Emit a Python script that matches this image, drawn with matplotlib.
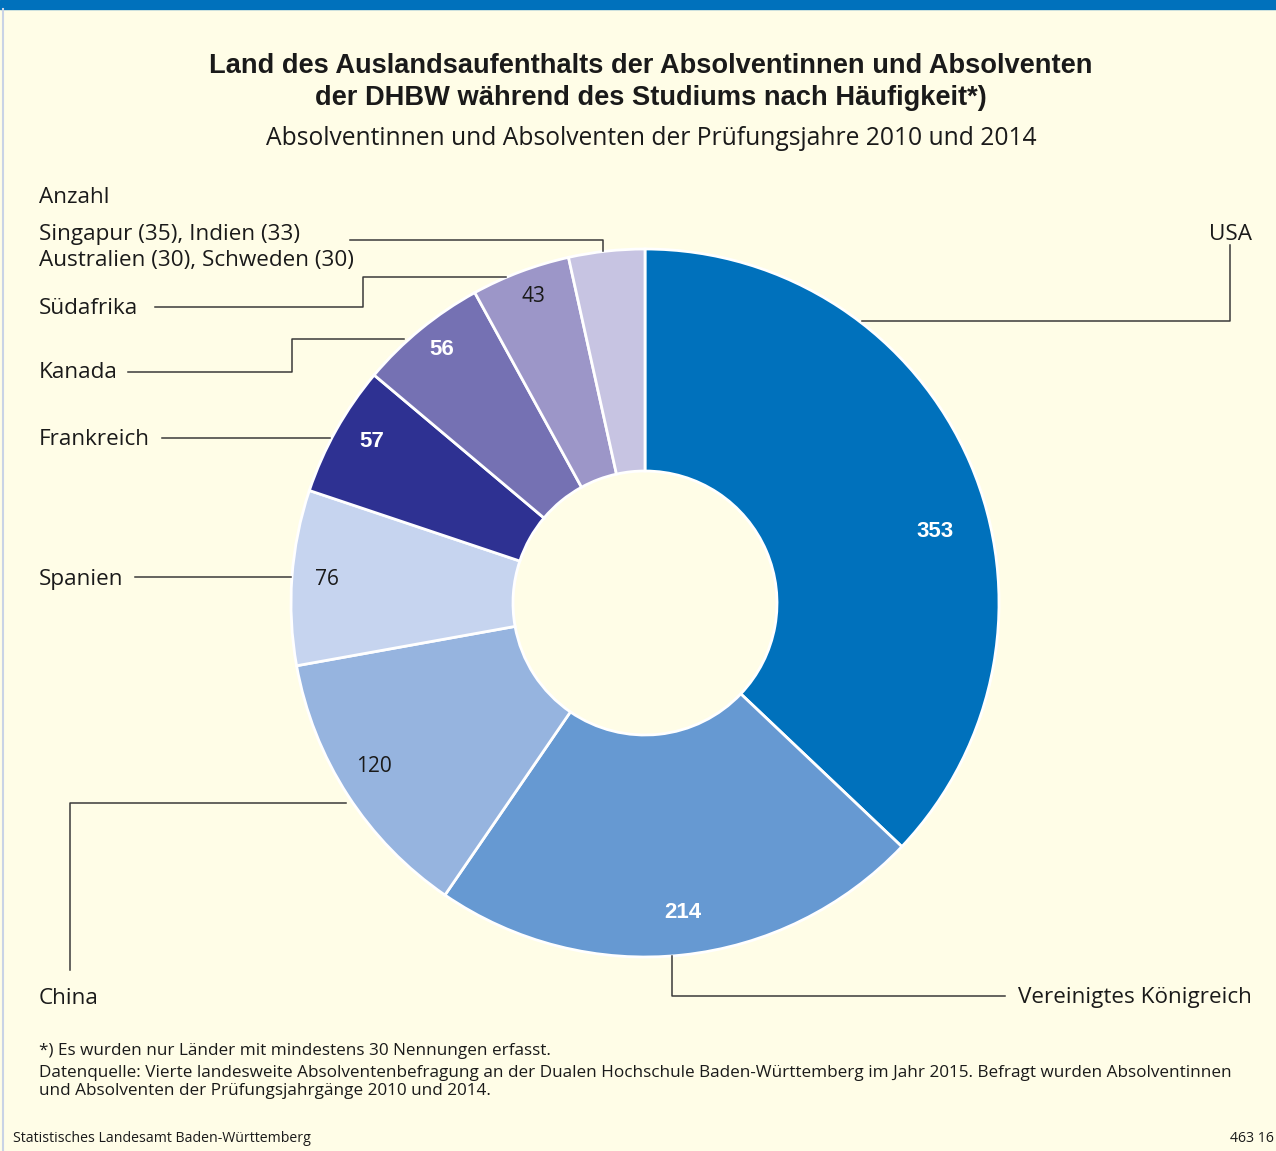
import matplotlib
matplotlib.use('Agg')
import matplotlib.pyplot as plt

plt.rcParams['font.family'] = ['Liberation Sans', 'DejaVu Sans']

# data (Anzahl Nennungen)
countries = ['USA', 'Vereinigtes Königreich', 'China', 'Spanien', 'Frankreich',
             'Kanada', 'Südafrika', 'Singapur/Indien/Australien/Schweden']
counts = [353, 214, 120, 76, 57, 56, 43, 33]
labels = ['353', '214', '120', '76', '57', '56', '43', '']
colors = ['#0071bc', '#6699d2', '#96b4df', '#c6d4ef', '#2e3192',
          '#7571b3', '#9c96c8', '#c7c4e2']
label_white = [True, True, False, False, True, True, False, False]

W, H = 1276, 1151
BG = '#fffde7'
LINE = '#3a3a3a'
TXT = '#1a1a1a'
REG = ['Open Sans', 'DejaVu Sans']


def Y(py):
    return H - py


fig = plt.figure(figsize=(W / 100, H / 100), dpi=100, facecolor=BG)
ax = fig.add_axes([0, 0, 1, 1])
ax.set_facecolor(BG)

ax.pie(counts, colors=colors, startangle=90, counterclock=False,
       radius=354, center=(645, Y(603)),
       wedgeprops=dict(width=222, edgecolor='white', linewidth=2))
ax.set_xlim(0, W)
ax.set_ylim(0, H)
ax.set_aspect('equal')
ax.axis('off')

# top bar and left border
ax.add_patch(plt.Rectangle((0, Y(9)), W, 9, color='#0071bc', clip_on=False))
ax.plot([2.5, 2.5], [0, Y(9)], color='#c9d3e6', lw=1.5)

# titles
ax.text(651, Y(66), 'Land des Auslandsaufenthalts der Absolventinnen und Absolventen',
        ha='center', va='center', fontsize=19.6, fontweight='bold', color=TXT)
ax.text(651, Y(98), 'der DHBW während des Studiums nach Häufigkeit*)',
        ha='center', va='center', fontsize=19.6, fontweight='bold', color=TXT)
ax.text(651, Y(138), 'Absolventinnen und Absolventen der Prüfungsjahre 2010 und 2014',
        ha='center', va='center', fontsize=17.7, color=TXT, family=REG)

# value labels inside the ring
label_pos = [(935, 531), (683, 913), (374, 767), (327, 579), (372, 441),
             (442, 349), (533, 296), (0, 0)]
for txt, (px, py), white in zip(labels, label_pos, label_white):
    if not txt:
        continue
    if white:
        ax.text(px, Y(py), txt, ha='center', va='center', fontsize=16,
                fontweight='bold', color='white')
    else:
        ax.text(px, Y(py), txt, ha='center', va='center', fontsize=15,
                color=TXT, family=REG)

# category labels
lab_fs = 16.2
left_labels = [('Anzahl', 197), ('Singapur (35), Indien (33)', 234),
               ('Australien (30), Schweden (30)', 260), (countries[6], 308),
               (countries[5], 372), (countries[4], 439), (countries[3], 579),
               (countries[2], 998)]
for txt, py in left_labels:
    ax.text(39, Y(py), txt, ha='left', va='center', fontsize=lab_fs, color=TXT, family=REG)
ax.text(1252, Y(998), countries[1], ha='right', va='center', fontsize=lab_fs,
        color=TXT, family=REG)
ax.text(1252, Y(234), countries[0], ha='right', va='center', fontsize=lab_fs,
        color=TXT, family=REG)

# leader lines
leaders = [
    [(350, 240), (603, 240), (603, 251)],
    [(155, 307), (363, 307), (363, 277), (506, 277)],
    [(128, 372), (292, 372), (292, 339), (404, 339)],
    [(162, 438), (330, 438)],
    [(135, 577), (291, 577)],
    [(70, 970), (70, 803), (346, 803)],
    [(672, 956), (672, 996), (1005, 996)],
    [(862, 321), (1230, 321), (1230, 245)],
]
for pts in leaders:
    ax.plot([p[0] for p in pts], [Y(p[1]) for p in pts], color=LINE, lw=1.1)

# footnotes
foot_fs = 12.3
ax.text(39, Y(1051), '*) Es wurden nur Länder mit mindestens 30 Nennungen erfasst.',
        ha='left', va='center', fontsize=foot_fs, color=TXT, family=REG)
ax.text(39, Y(1073), 'Datenquelle: Vierte landesweite Absolventenbefragung an der Dualen '
        'Hochschule Baden-Württemberg im Jahr 2015. Befragt wurden Absolventinnen',
        ha='left', va='center', fontsize=foot_fs, color=TXT, family=REG)
ax.text(39, Y(1091), 'und Absolventen der Prüfungsjahrgänge 2010 und 2014.',
        ha='left', va='center', fontsize=foot_fs, color=TXT, family=REG)
ax.text(13, Y(1139), 'Statistisches Landesamt Baden-Württemberg',
        ha='left', va='center', fontsize=10.2, color=TXT, family=REG)
ax.text(1274, Y(1139), '463 16', ha='right', va='center', fontsize=10.2,
        color=TXT, family=REG)

fig.savefig('out.png', dpi=100, facecolor=BG)
